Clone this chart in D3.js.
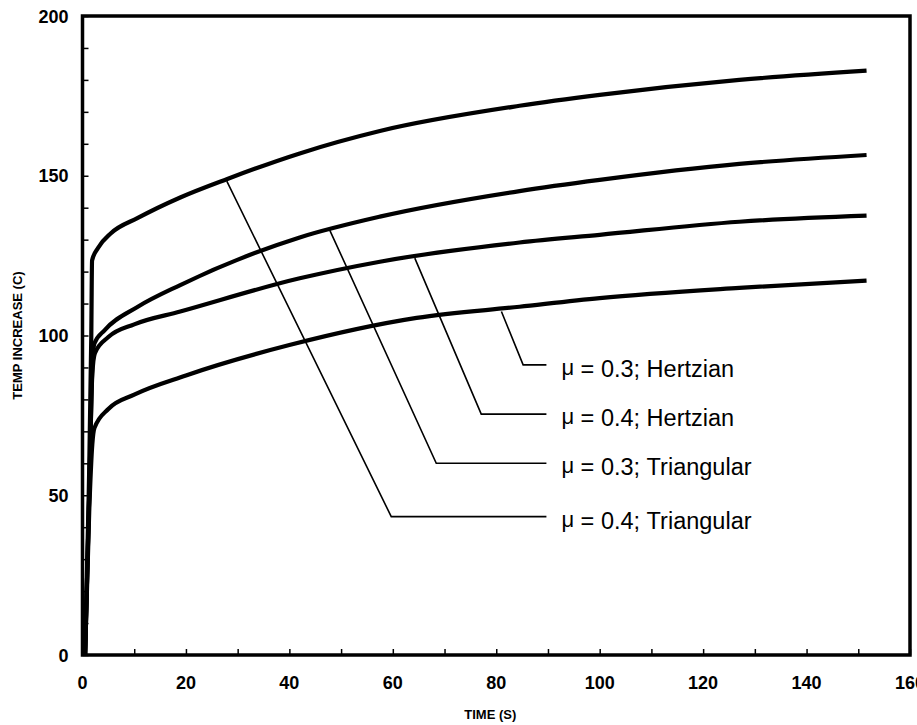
<!DOCTYPE html>
<html>
<head>
<meta charset="utf-8">
<script src="https://cdn.jsdelivr.net/npm/d3@7"></script>
<style>
  html,body{margin:0;padding:0;background:#fff;}
  svg{display:block;}
  text{font-family:"Liberation Sans",Arial,sans-serif;fill:#000;}
</style>
</head>
<body>
<div id="chart"></div>
<script>
// ── data (time s, temp increase C) ──
const xTicks=[0,20,40,60,80,100,120,140,160];
const yTicks=[0,50,100,150,200];

const tri04=[[0.5,0],[1.2,50],[1.7,100],[1.85,123.5],[3,127.4],[5.5,132],[10.7,136.8],[18.9,143.2],[28,149],[42,157],[57.5,164],[84.5,171.9],[100,175.3],[127,180],[151.6,182.9]];
const tri03=[[0.5,0],[1.3,50],[1.9,90],[2.3,97.5],[4.3,101.7],[10.7,109],[18.9,115.8],[42,130.7],[57.5,137.2],[84.5,145.2],[100,148.7],[127,153.7],[151.6,156.5]];
const hz04=[[0.5,0],[1.3,50],[1.9,88],[2.4,94.5],[5,99.5],[10,103.5],[18.9,107.5],[42,117.9],[57.5,123.1],[84.5,129.1],[100,131.5],[127,135.6],[151.6,137.5]];
const hz03=[[0.5,0],[1.3,45],[1.9,66],[2.3,71],[5,77],[10,81.5],[20,87.5],[40,97],[64.6,105.5],[84.5,109],[100,111.7],[127,114.9],[151.6,117.2]];
const series=[tri04,tri03,hz04,hz03];

// callouts: start on curve, elbow, end of horizontal, label text
const callouts=[
  {lab:"0.3; Hertzian",   s:[81,107.5],  e:[85.2,90.8]},
  {lab:"0.4; Hertzian",   s:[64.25,124.2],e:[77.1,75.4]},
  {lab:"0.3; Triangular", s:[47.8,133],  e:[68.4,60.0]},
  {lab:"0.4; Triangular", s:[27.9,148.3],e:[59.7,43.3]}
];
const calloutEndT=89.7, labelT=92.6;

const W=917,H=725;
const MG={t:16,r:7,b:70,l:82.5};
const svg=d3.select("#chart").append("svg").attr("width",W).attr("height",H);

const x=d3.scaleLinear().domain([0,160]).range([MG.l,W-MG.r]);
const y=d3.scaleLinear().domain([0,200]).range([H-MG.b,MG.t]);

// minor inward ticks every 10
svg.append("g").attr("transform",`translate(0,${y(0)})`)
  .call(d3.axisBottom(x).tickValues(d3.range(0,161,10)).tickSize(-6).tickFormat(""))
  .call(g=>g.select(".domain").remove())
  .selectAll("line").attr("stroke","#000").attr("stroke-width",1.5);
svg.append("g").attr("transform",`translate(${x(0)},0)`)
  .call(d3.axisLeft(y).tickValues(d3.range(0,201,10)).tickSize(-6).tickFormat(""))
  .call(g=>g.select(".domain").remove())
  .selectAll("line").attr("stroke","#000").attr("stroke-width",1.5);

// tick labels
svg.append("g").selectAll("text").data(xTicks).join("text")
  .attr("x",d=>x(d)).attr("y",y(0)+34).attr("text-anchor","middle")
  .attr("font-size",18).attr("font-weight","bold").text(d=>d);
svg.append("g").selectAll("text").data(yTicks).join("text")
  .attr("x",x(0)-14).attr("y",d=>y(d)+6.5).attr("text-anchor","end")
  .attr("font-size",18).attr("font-weight","bold").text(d=>d);

// frame
svg.append("rect").attr("x",x(0)).attr("y",y(200))
  .attr("width",x(160)-x(0)).attr("height",y(0)-y(200))
  .attr("fill","none").attr("stroke","#000").attr("stroke-width",3.5);

// curves
const line=d3.line().x(d=>x(d[0])).y(d=>y(d[1])).curve(d3.curveMonotoneX);
svg.append("g").selectAll("path").data(series).join("path")
  .attr("d",line).attr("fill","none").attr("stroke","#000")
  .attr("stroke-width",4.2).attr("stroke-linejoin","round");

// callouts
const cg=svg.append("g");
cg.selectAll("path").data(callouts).join("path")
  .attr("d",d=>`M${x(d.s[0])},${y(d.s[1])}L${x(d.e[0])},${y(d.e[1])}L${x(calloutEndT)},${y(d.e[1])}`)
  .attr("fill","none").attr("stroke","#000").attr("stroke-width",1.6);
const lt=cg.selectAll("text").data(callouts).join("text")
  .attr("x",x(labelT)).attr("y",d=>y(d.e[1])+12).attr("font-size",23.5);
lt.append("tspan").attr("font-size",22).attr("dy",-2).text("μ");
lt.append("tspan").attr("dy",2).text(d=>" = "+d.lab);

// axis titles
svg.append("text").attr("transform",`translate(22,${(y(0)+y(200))/2}) rotate(-90)`)
  .attr("text-anchor","middle").attr("font-size",13).attr("font-weight","bold")
  .text("TEMP INCREASE (C)");
svg.append("text").attr("x",(x(0)+x(160))/2-6).attr("y",719)
  .attr("text-anchor","middle").attr("font-size",13).attr("font-weight","bold")
  .text("TIME (S)");
</script>
</body>
</html>
